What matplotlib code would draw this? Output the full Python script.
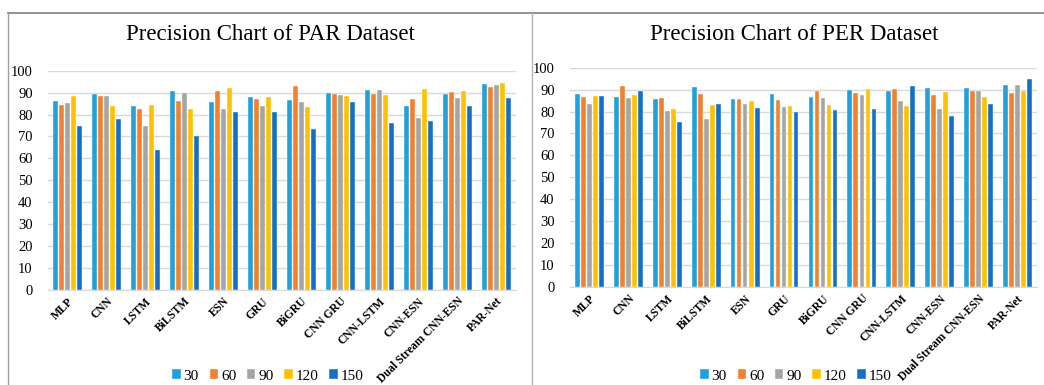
import matplotlib
matplotlib.use("Agg")
import matplotlib.pyplot as plt
from matplotlib.lines import Line2D
import numpy as np

categories = ["MLP", "CNN", "LSTM", "BiLSTM", "ESN", "GRU", "BiGRU", "CNN GRU",
              "CNN-LSTM", "CNN-ESN", "Dual Stream CNN-ESN", "PAR-Net"]
series_names = ["30", "60", "90", "120", "150"]

par_30 = [86.1, 89.2, 83.9, 90.7, 85.7, 87.8, 86.6, 89.6, 91.0, 83.7, 89.2, 93.9]
par_60 = [84.3, 88.4, 82.5, 86.0, 90.9, 86.9, 93.0, 89.3, 89.3, 87.2, 90.1, 92.5]
par_90 = [85.1, 88.4, 74.9, 89.6, 82.5, 84.0, 85.7, 88.9, 91.0, 78.5, 87.7, 93.5]
par_120 = [88.6, 83.9, 84.2, 82.6, 91.9, 87.8, 83.3, 88.6, 88.9, 91.6, 90.6, 94.4]
par_150 = [74.9, 78.1, 63.9, 70.3, 81.1, 81.3, 73.5, 85.7, 76.1, 76.9, 84.0, 87.4]

per_30 = [88.0, 86.8, 85.9, 91.2, 85.9, 88.1, 86.5, 89.8, 89.2, 90.6, 90.6, 92.1]
per_60 = [86.5, 91.5, 86.3, 87.8, 85.9, 85.4, 89.4, 88.3, 90.1, 87.4, 89.4, 88.3]
per_90 = [83.4, 86.3, 80.4, 76.7, 83.3, 82.1, 86.2, 87.5, 85.0, 81.0, 89.4, 92.2]
per_120 = [87.1, 87.5, 81.2, 83.0, 85.0, 82.5, 82.8, 90.1, 82.5, 88.9, 86.8, 89.4]
per_150 = [87.1, 89.4, 75.2, 83.6, 81.6, 79.9, 80.9, 81.0, 91.5, 78.1, 83.4, 94.7]

colors = ["#21A0DB", "#F47F2C", "#A5A5A5", "#FFC000", "#1370C8"]
serif = ["Liberation Serif", "DejaVu Serif"]

fig = plt.figure(figsize=(10.44, 3.85), dpi=100)
W, H = 1044, 385

def px_axes(x0, x1, ytop, ybot):
    return fig.add_axes([x0 / W, (H - ybot) / H, (x1 - x0) / W, (ybot - ytop) / H])

ax1 = px_axes(48, 516, 70.7, 289.7)
ax2 = px_axes(570, 1037, 67.7, 287.0)

def draw(ax, data, title, title_x):
    x = np.arange(len(categories))
    pitch = 0.155
    width = 0.122
    for i, (vals, name) in enumerate(zip(data, series_names)):
        ax.bar(x + (i - 2) * pitch, vals, width, color=colors[i], label=name,
               edgecolor="white", linewidth=0.3, zorder=3)
    ax.set_xlim(-0.5, len(categories) - 0.5)
    ax.set_ylim(0, 100)
    ax.set_yticks(np.arange(0, 101, 10))
    ax.yaxis.grid(True, color="#D9D9D9", linewidth=1.0, zorder=0)
    ax.set_axisbelow(True)
    for s in ["top", "right", "left"]:
        ax.spines[s].set_visible(False)
    ax.spines["bottom"].set_color("#D9D9D9")
    ax.tick_params(axis="both", length=0)
    ax.tick_params(axis="y", pad=11)
    ax.tick_params(axis="x", pad=4)
    ax.set_xticks(x)
    ax.set_xticklabels(categories, rotation=45, ha="right", rotation_mode="anchor",
                       fontweight="bold", fontsize=8.3, family=serif)
    for lab in ax.get_yticklabels():
        lab.set_family(serif)
        lab.set_fontsize(10.5)
    fig.text(title_x / W, 1 - 35 / H, title, ha="center", va="center",
             fontsize=16.5, family=serif)

draw(ax1, [par_30, par_60, par_90, par_120, par_150], "Precision Chart of PAR Dataset", 270)
draw(ax2, [per_30, per_60, per_90, per_120, per_150], "Precision Chart of PER Dataset", 794)

for ax, cx in [(ax1, 268), (ax2, 796)]:
    h, l = ax.get_legend_handles_labels()
    fig.legend(h, l, loc="center", bbox_to_anchor=(cx / W, 1 - 376 / H), ncol=5,
               frameon=False, prop={"family": serif, "size": 11},
               handlelength=0.55, handleheight=0.55, handletextpad=0.2, columnspacing=0.7,
               borderpad=0)

# panel frame lines
fig.add_artist(Line2D([8 / W, 1], [1 - 13 / H, 1 - 13 / H], color="#7F7F7F", linewidth=1.2,
                      transform=fig.transFigure))
fig.add_artist(Line2D([8 / W, 8 / W], [0, 1 - 13 / H], color="#9E9E9E", linewidth=1.0,
                      transform=fig.transFigure))
fig.add_artist(Line2D([532 / W, 532 / W], [0, 1 - 13 / H], color="#B5B5B5", linewidth=1.0,
                      transform=fig.transFigure))

fig.savefig("out.png", dpi=100)
